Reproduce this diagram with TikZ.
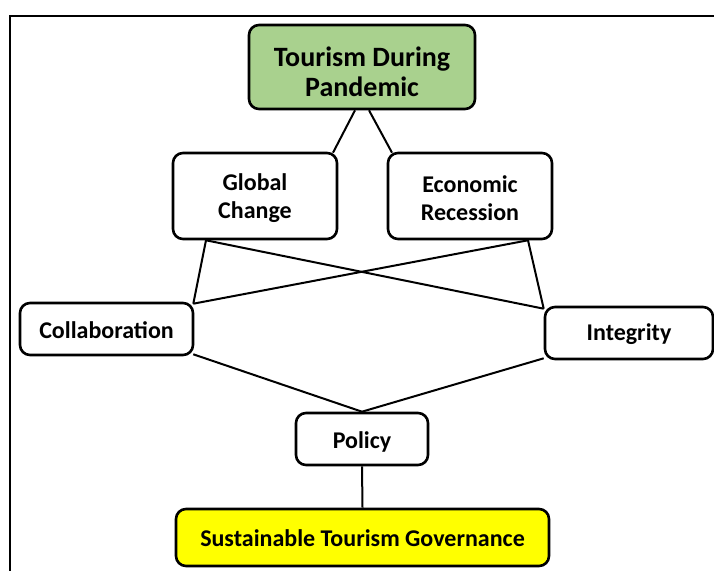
\documentclass[tikz,border=0pt]{standalone}
\usepackage{fontspec}
\setmainfont{Carlito}
\definecolor{boxgreen}{RGB}{169,209,142}
\definecolor{boxyellow}{RGB}{255,255,0}
\tikzset{
  x=1pt,y=1pt,
  box/.style={draw=black, line width=2.6pt, rounded corners=10pt, fill=white, inner sep=0pt},
  txt/.style={align=center, inner sep=0pt, font=\bfseries\fontsize{24}{28}\selectfont},
  bigtxt/.style={txt, font=\bfseries\fontsize{28}{30}\selectfont},
  link/.style={draw=black, line width=2pt},
  frame/.style={draw=black, line width=2.4pt}
}
\begin{document}
\begin{tikzpicture}
\useasboundingbox (0,0) rectangle (714,570);
\draw[frame] (10,-5) -- (10,554) -- (720,554);
% boxes
\node[box, fill=boxgreen, minimum width=226pt, minimum height=84pt] (tdp) at (362,503) {};
\node[box, minimum width=164pt, minimum height=86pt] (gc) at (255,374) {};
\node[box, minimum width=164pt, minimum height=86pt] (ec) at (470,374) {};
\node[box, minimum width=173pt, minimum height=52pt] (col) at (106.5,241) {};
\node[box, minimum width=168pt, minimum height=52pt] (int) at (629,237) {};
\node[box, minimum width=132pt, minimum height=52pt] (pol) at (362,131) {};
\node[box, fill=boxyellow, minimum width=373pt, minimum height=57pt] (stg) at (362.5,32.5) {};
% texts
\node[bigtxt] (tdpt) at ([yshift=-5pt]tdp.center) {Tourism During\\Pandemic};
\node[txt] (gct) at ([yshift=-2.5pt]gc.center) {Global\\Change};
\node[txt] (ect) at ([yshift=-2.5pt]ec.center) {Economic\\Recession};
\node[txt] (colt) at ([yshift=-1pt]col.center) {Collaboration};
\node[txt] (intt) at ([yshift=-1pt]int.center) {Integrity};
\node[txt] (polt) at ([yshift=-2.5pt]pol.center) {Policy};
\node[txt] (stgt) at ([yshift=-1pt]stg.center) {Sustainable Tourism Governance};
% links
\draw[link] ([xshift=-7pt]tdp.south) -- ([xshift=78pt,yshift=-1pt]gc.north);
\draw[link] ([xshift=7pt]tdp.south) -- ([xshift=-78pt,yshift=-1pt]ec.north);
\draw[link] ([xshift=-49pt]gc.south) -- ([xshift=-1pt,yshift=-2pt]col.north east);
\draw[link] ([xshift=-49pt]gc.south) -- ([yshift=-3pt]int.north west);
\draw[link] ([xshift=58pt]ec.south) -- ([xshift=-1pt,yshift=-2pt]col.north east);
\draw[link] ([xshift=58pt]ec.south) -- ([yshift=-3pt]int.north west);
\draw[link] ([xshift=-1pt,yshift=2pt]col.south east) -- (pol.north);
\draw[link] ([yshift=2pt]int.south west) -- (pol.north);
\draw[link] (pol.south) -- (stg.north);
\end{tikzpicture}
\end{document}
